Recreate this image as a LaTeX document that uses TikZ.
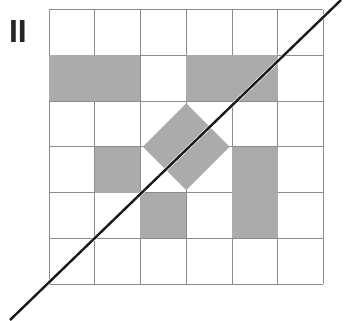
\documentclass[tikz,border=0pt]{standalone}
\usepackage{fontspec}
\usepackage{tikz}
\usetikzlibrary{positioning,calc}
\newfontfamily\numeralfont{Liberation Sans}

\begin{document}
\begin{tikzpicture}[x=45.75pt, y=45.75pt]
        \tikzset{gridline/.style={draw=black!45, line width=0.9pt},
                 cellshade/.style={fill=black!33},
                 diagline/.style={draw=black!90, line width=2.4pt},
                 halo/.style={draw=white, line width=3.6pt}}
        \useasboundingbox (-1.071,-0.787) rectangle (6.820,6.208);
        \clip (-1.071,-0.787) rectangle (6.820,6.208);

        \node[font=\numeralfont\bfseries\fontsize{32}{32}\selectfont, text=black!85, inner sep=0pt] (numeral) at (-0.678,5.519) {II};

        % 6x6 grid
        \draw[gridline, step=1] (0,0) grid (6,6);

        % shaded cells
        \fill[cellshade] (0,4) rectangle (2,5);
        \fill[cellshade] (3,4) rectangle (5,5);
        \fill[cellshade] (1,2) rectangle (2,3);
        \fill[cellshade] (2,1) rectangle (3,2);
        \fill[cellshade] (4,1) rectangle (5,3);
        \fill[cellshade] (3,3.95) -- (3.95,3) -- (3,2.05) -- (2.05,3) -- cycle;

        % diagonal
        \coordinate (lowend) at (-0.852,-0.787);
        \coordinate (highend) at (6.383,6.208);
        \draw[halo] (lowend) -- (highend);
        \draw[diagline] (lowend) -- (highend);
\end{tikzpicture}
\end{document}
